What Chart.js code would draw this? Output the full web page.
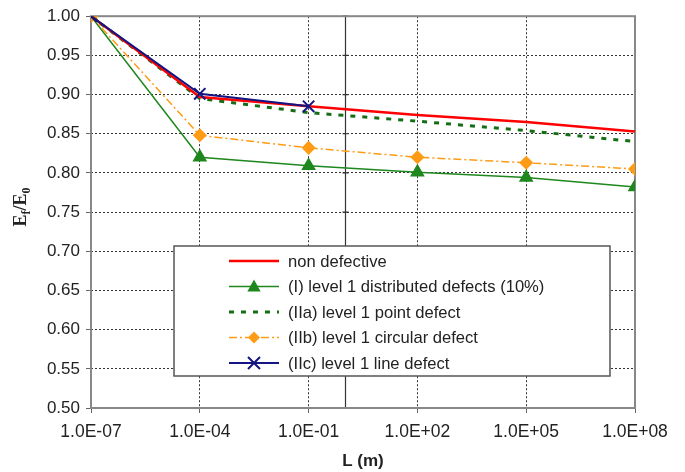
<!DOCTYPE html>
<html lang="en">
<head>
<meta charset="UTF-8">
<title>Ef/E0 vs L</title>
<script src="https://cdn.jsdelivr.net/npm/chart.js"></script>
<style>
  html, body { margin: 0; padding: 0; background: #fff; }
  #wrap { width: 685px; height: 472px; position: relative; }
</style>
</head>
<body>
<div id="wrap"><canvas id="myChart"></canvas></div>
<script>
// values
const lengths = [1e-7, 1e-4, 1e-1, 1e2, 1e5, 1e8];
const nonDefective = [1.000, 0.897, 0.885, 0.874, 0.865, 0.853];
const distributed = [1.000, 0.820, 0.809, 0.801, 0.794, 0.782];
const pointDefect = [1.000, 0.895, 0.877, 0.866, 0.854, 0.840];
const circularDefect = [1.000, 0.848, 0.832, 0.820, 0.813, 0.805];
const lineDefect = [1.000, 0.901, 0.885];
const xTicks = [1e-7, 1e-4, 1e-1, 1e2, 1e5, 1e8];
const seriesNames = [
    'non defective',
    '(I) level 1 distributed defects (10%)',
    '(IIa) level 1 point defect',
    '(IIb) level 1 circular defect',
    '(IIc) level 1 line defect'
];

const FONT = '"Liberation Sans", Arial, sans-serif';

function pts(vals) {
    return vals.map((y, i) => ({x: lengths[i], y: y}));
}
function sci(v) {
    const e = Math.round(Math.log10(v));
    return '1.0E' + (e < 0 ? '-' : '+') + String(Math.abs(e)).padStart(2, '0');
}

function drawMarker(ctx, style, x, y, r, color) {
    ctx.save();
    ctx.fillStyle = color;
    ctx.strokeStyle = color;
    ctx.setLineDash([]);
    ctx.beginPath();
    if (style === 'triangle') {
        ctx.moveTo(x, y - r);
        ctx.lineTo(x + r * 0.95, y + r * 0.7);
        ctx.lineTo(x - r * 0.95, y + r * 0.7);
        ctx.closePath();
        ctx.fill();
    } else if (style === 'rectRot') {
        ctx.moveTo(x, y - r);
        ctx.lineTo(x + r, y);
        ctx.lineTo(x, y + r);
        ctx.lineTo(x - r, y);
        ctx.closePath();
        ctx.fill();
    } else if (style === 'crossRot') {
        ctx.lineWidth = 2;
        const d = r * 0.75;
        ctx.moveTo(x - d, y - d); ctx.lineTo(x + d, y + d);
        ctx.moveTo(x + d, y - d); ctx.lineTo(x - d, y + d);
        ctx.stroke();
    }
    ctx.restore();
}

// frame, axis-crossing line at L = 1, y title, legend box
const extras = {
    id: 'extras',
    beforeDatasetsDraw(chart) {
        const ctx = chart.ctx, a = chart.chartArea;
        const xs = chart.scales.x, ys = chart.scales.y;
        ctx.save();
        ctx.strokeStyle = '#333';
        ctx.lineWidth = 1.2;
        const cx = Math.round(xs.getPixelForValue(1)) + 0.5;
        ctx.beginPath();
        ctx.moveTo(cx, a.top); ctx.lineTo(cx, a.bottom);
        ys.ticks.forEach(t => {
            const py = ys.getPixelForValue(t.value);
            ctx.moveTo(cx - 3, py); ctx.lineTo(cx + 3, py);
        });
        ctx.stroke();
        ctx.strokeStyle = '#888';
        ctx.lineWidth = 2;
        ctx.strokeRect(a.left, a.top, a.right - a.left, a.bottom - a.top);
        ctx.restore();
    },
    afterDraw(chart) {
        const ctx = chart.ctx, a = chart.chartArea;
        // y axis title with subscripts
        ctx.save();
        ctx.translate(20, (a.top + a.bottom) / 2 - 5);
        ctx.rotate(-Math.PI / 2);
        ctx.fillStyle = '#222';
        ctx.textBaseline = 'alphabetic';
        const big = 'bold 18px "Liberation Serif", "DejaVu Serif", serif';
        const small = 'bold 12px "Liberation Serif", "DejaVu Serif", serif';
        const parts = [['E', big, 0], ['f', small, 4], ['/E', big, 0], ['0', small, 4]];
        let w = 0;
        parts.forEach(p => { ctx.font = p[1]; w += ctx.measureText(p[0]).width; });
        let px = -w / 2;
        parts.forEach(p => {
            ctx.font = p[1];
            ctx.fillText(p[0], px, 6 + p[2]);
            px += ctx.measureText(p[0]).width;
        });
        ctx.restore();

        // legend
        const lx = 174, ly = 246, lw = 436, lh = 130;
        ctx.save();
        ctx.fillStyle = '#fff';
        ctx.fillRect(lx, ly, lw, lh);
        ctx.strokeStyle = '#555';
        ctx.lineWidth = 1.5;
        ctx.strokeRect(lx, ly, lw, lh);
        ctx.font = '16.6px ' + FONT;
        ctx.textBaseline = 'middle';
        const legendOrder = [0, 1, 2, 3, 4];
        legendOrder.forEach((di, row) => {
            const ds = chart.data.datasets[di];
            const y = ly + 15 + row * 25.5;
            ctx.strokeStyle = ds.borderColor;
            ctx.lineWidth = ds.borderWidth;
            ctx.setLineDash(ds.borderDash || []);
            ctx.beginPath();
            ctx.moveTo(229, y); ctx.lineTo(279, y);
            ctx.stroke();
            ctx.setLineDash([]);
            if (ds.pointStyle && ds.pointRadius > 0) {
                drawMarker(ctx, ds.pointStyle, 254, y, ds.pointRadius, ds.borderColor);
            }
            ctx.fillStyle = '#222';
            ctx.fillText(ds.label, 288, y + 1);
        });
        ctx.restore();
    }
};

const data = {
    datasets: [
        {
            label: seriesNames[0], data: pts(nonDefective),
            borderColor: 'rgb(255, 0, 0)', borderWidth: 2.5,
            pointRadius: 0, pointStyle: false, order: 1
        },
        {
            label: seriesNames[1], data: pts(distributed),
            borderColor: 'rgb(30, 135, 30)', backgroundColor: 'rgb(30, 135, 30)', borderWidth: 1.5,
            pointStyle: 'triangle', pointRadius: 7, order: 4
        },
        {
            label: seriesNames[2], data: pts(pointDefect),
            borderColor: 'rgb(20, 110, 20)', borderWidth: 3, borderDash: [5, 7],
            pointRadius: 0, pointStyle: false, order: 2
        },
        {
            label: seriesNames[3], data: pts(circularDefect),
            borderColor: 'rgb(255, 155, 20)', backgroundColor: 'rgb(255, 155, 20)', borderWidth: 1.5,
            borderDash: [8, 3, 2, 3],
            pointStyle: 'rectRot', pointRadius: 6, order: 3
        },
        {
            label: seriesNames[4], data: pts(lineDefect),
            borderColor: 'rgb(20, 20, 130)', backgroundColor: 'rgb(20, 20, 130)', borderWidth: 2,
            pointStyle: 'crossRot', pointRadius: 8, pointBorderWidth: 2, order: 0
        }
    ]
};

const config = {
    type: 'line',
    data: data,
    options: {
        responsive: true,
        maintainAspectRatio: false,
        animation: false,
        layout: { padding: { top: 13, right: 50, left: 0, bottom: 0 } },
        plugins: { legend: { display: false }, tooltip: { enabled: false } },
        elements: { line: { tension: 0 } },
        scales: {
            x: {
                type: 'logarithmic',
                min: 1e-7, max: 1e8,
                afterBuildTicks: s => { s.ticks = xTicks.map(v => ({value: v})); },
                afterFit: s => { s.height = 64; },
                ticks: {
                    callback: v => sci(v),
                    color: '#222', font: { family: FONT, size: 17.5 },
                    padding: 9, maxRotation: 0, autoSkip: false
                },
                grid: { color: '#333', lineWidth: 1, tickLength: 5, tickColor: '#666' },
                border: { display: false, dash: [2, 2] },
                title: {
                    display: true, text: 'L (m)', color: '#222',
                    font: { family: FONT, size: 17, weight: 'bold' },
                    padding: { top: 0, bottom: 0 }
                }
            },
            y: {
                min: 0.5, max: 1.0,
                afterFit: s => { s.width = 91; },
                ticks: {
                    stepSize: 0.05,
                    callback: v => v.toFixed(2),
                    color: '#222', font: { family: FONT, size: 17 },
                    padding: 6
                },
                grid: { color: '#333', lineWidth: 1, tickLength: 5, tickColor: '#666' },
                border: { display: false, dash: [2, 2] }
            }
        }
    },
    plugins: [extras]
};

const context = document.getElementById('myChart').getContext('2d');
const myChart = new Chart(context, config);
</script>
</body>
</html>
